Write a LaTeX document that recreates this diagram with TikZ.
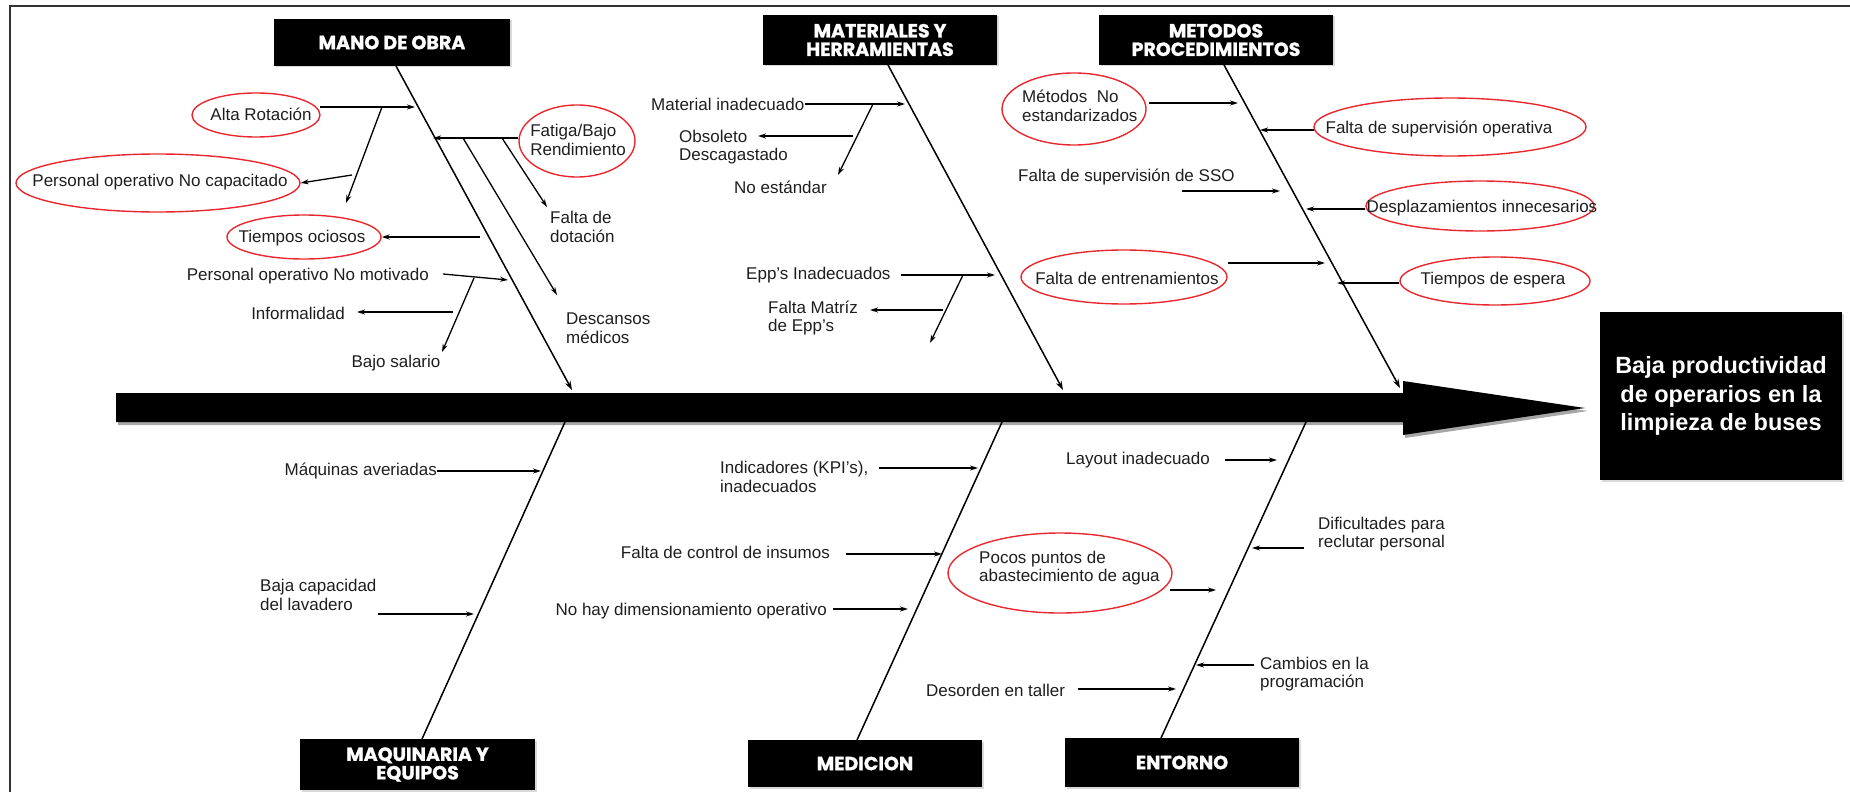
\documentclass[tikz,border=0pt]{standalone}
\usepackage{fontspec}
\setmainfont{Liberation Sans}
\newfontfamily\catfont{Poppins}[BoldFeatures={FakeBold=1.2}]
\usetikzlibrary{shapes.geometric,arrows.meta,shadows}
\definecolor{ellred}{HTML}{E8282E}
\definecolor{txtc}{HTML}{1E1E1E}
\begin{document}
\begin{tikzpicture}[x=1pt,y=-1pt,
  txt/.style={inner sep=0pt, font=\fontsize{17}{18.5}\selectfont, text=txtc, align=left},
  ell/.style={ellipse, draw=ellred, line width=1.4pt, inner sep=0pt},
  cat/.style={fill=black, text=white, inner sep=0pt, align=center,
    font=\catfont\bfseries\fontsize{19}{18.5}\selectfont,
    drop shadow={shadow xshift=1.5pt, shadow yshift=-1.5pt, opacity=0.3}},
  bone/.style={line width=1.5pt, -{Stealth[length=9pt,width=6pt]}},
  sub/.style={line width=1.3pt, -{Stealth[length=8pt,width=5pt]}},
  plain/.style={line width=1.5pt},
]
\useasboundingbox (0,0) rectangle (1850,792);
% frame
\draw[line width=2pt, black!80] (10,792) -- (10,6) -- (1850,6);

% spine
\fill[black!35] (118,396) -- (1405,396) -- (1405,384) -- (1588,411) -- (1405,438) -- (1405,425) -- (118,425) -- cycle;
\fill[black] (116,393) -- (1403,393) -- (1403,381) -- (1585,408) -- (1403,435) -- (1403,422) -- (116,422) -- cycle;

% effect
\node[fill=black, text=white, minimum width=242pt, minimum height=168pt, inner sep=0pt, align=center,
  font=\bfseries\fontsize{23.5}{28.3}\selectfont,
  drop shadow={shadow xshift=2pt, shadow yshift=-2pt, opacity=0.3}] (eff) at (1721,396)
  {Baja productividad\\de operarios en la\\limpieza de buses};

% categories
\node[cat, minimum width=236pt, minimum height=47pt] (mo) at (392,42.5) {MANO DE OBRA};
\node[cat, minimum width=234pt, minimum height=50pt] (mat) at (880,40) {MATERIALES Y\\HERRAMIENTAS};
\node[cat, minimum width=234pt, minimum height=50pt] (met) at (1216,40) {METODOS\\PROCEDIMIENTOS};
\node[cat, minimum width=235pt, minimum height=51pt] (maq) at (417.5,764.5) {MAQUINARIA Y\\EQUIPOS};
\node[cat, minimum width=234pt, minimum height=47pt] (med) at (865,763.5) {MEDICION};
\node[cat, minimum width=234pt, minimum height=49pt] (ent) at (1182,762.5) {ENTORNO};

% bones
\coordinate (b1) at (396,66); \coordinate (s1) at (572,390);
\coordinate (b2) at (888,65); \coordinate (s2) at (1063,390);
\coordinate (b3) at (1224,65); \coordinate (s3) at (1400,388);
\coordinate (b4) at (565,422); \coordinate (c4) at (422,739);
\coordinate (b5) at (1002,422); \coordinate (c5) at (857,740);
\coordinate (b6) at (1306,422); \coordinate (c6) at (1161,738);
\draw[bone] (b1) -- (s1);
\draw[bone] (b2) -- (s2);
\draw[bone] (b3) -- (s3);
\draw[plain] (b4) -- (c4);
\draw[plain] (b5) -- (c5);
\draw[plain] (b6) -- (c6);

% ---------- MANO DE OBRA ----------
\node[ell, minimum width=128pt, minimum height=44pt] (altarot) at (256,115) {};
\node[txt] (taltarot) at (261,114) {Alta Rotación};
\node[ell, minimum width=284pt, minimum height=58pt] (ponc) at (158,183) {};
\node[txt] (tponc) at (160,182) {Personal operativo No capacitado};
\node[ell, minimum width=116pt, minimum height=72pt] (fatiga) at (577,141) {};
\node[txt] (tfatiga) at (578,140) {Fatiga/Bajo\\Rendimiento};
\node[ell, minimum width=154pt, minimum height=44pt] (ocio) at (304,237) {};
\node[txt] (tocio) at (302,238) {Tiempos ociosos};
\node[txt, anchor=west] (dota) at (550,227) {Falta de\\dotación};
\node[txt, anchor=west] (desc) at (566,328) {Descansos\\médicos};
\node[txt, anchor=east] (ponm) at (429,276) {Personal operativo No motivado};
\node[txt, anchor=east] (inf) at (345,313) {Informalidad};
\node[txt] (bsal) at (396,363) {Bajo salario};

\draw[sub] (320,107) -- (415,107);
\draw[sub] (382,107) -- (346,203);
\draw[sub] (352,175) -- (ponc.east);
\draw[sub] (fatiga.west |- 0,138) -- (433,138);
\draw[sub] (463,138) -- (557,295);
\draw[sub] (502,138) -- (547,207);
\draw[sub] (480,237) -- (ocio.east);
\draw[sub] (443,274) -- (508,280);
\draw[sub] (474,278) -- (442,352);
\draw[sub] (453,312) -- (357,312);

% ---------- MATERIALES ----------
\node[txt, anchor=west] (matin) at (651,104) {Material inadecuado};
\node[txt, anchor=west] (obs) at (679,147) {Obsoleto\\Descagastado};
\node[txt, anchor=west] (noest) at (734,187) {No estándar};
\node[txt, anchor=west] (eppin) at (746,275) {Epp's Inadecuados};
\node[txt, anchor=west] (eppm) at (768,318) {Falta Matríz\\de Epp's};

\draw[sub] (matin.east) -- (905,104);
\draw[sub] (873,104) -- (838,175);
\draw[sub] (853,136) -- (758,136);
\draw[sub] (901,275) -- (995,275);
\draw[sub] (963,275) -- (930,343);
\draw[sub] (943,310) -- (870,310);

% ---------- METODOS ----------
\node[ell, minimum width=144pt, minimum height=72pt] (mnoest) at (1074,109) {};
\node[txt, anchor=west] (tmnoest) at (1022,106) {Métodos\ \ No\\estandarizados};
\node[ell, minimum width=272pt, minimum height=58pt] (fsup) at (1450,127) {};
\node[txt] (tfsup) at (1439,129) {Falta de supervisión operativa};
\node[txt, anchor=west] (fsso) at (1018,177) {Falta de supervisión de SSO};
\node[ell, minimum width=228pt, minimum height=50pt] (despl) at (1480,206) {};
\node[txt] (tdespl) at (1482,208) {Desplazamientos innecesarios};
\node[ell, minimum width=206pt, minimum height=54pt] (fent) at (1124,277) {};
\node[txt] (tfent) at (1127,278) {Falta de entrenamientos};
\node[ell, minimum width=190pt, minimum height=48pt] (tesp) at (1495,281) {};
\node[txt] (ttesp) at (1493,280) {Tiempos de espera};

\draw[sub] (1149,103) -- (1238,103);
\draw[sub] (1314,130) -- (1260,130);
\draw[sub] (1182,191) -- (1280,191);
\draw[sub] (despl.west |- 0,209) -- (1306,209);
\draw[sub] (1228,263) -- (1325,263);
\draw[sub] (tesp.west |- 0,283) -- (1337,283);

% ---------- MAQUINARIA ----------
\node[txt, anchor=east] (maqav) at (437,471) {Máquinas averiadas};
\node[txt, anchor=west] (bcap) at (260,595) {Baja capacidad\\del lavadero};
\draw[sub] (maqav.east) -- (541,471);
\draw[sub] (378,614) -- (474,614);

% ---------- MEDICION ----------
\node[txt, anchor=west] (kpi) at (720,477) {Indicadores (KPI's),\\inadecuados};
\node[txt, anchor=east] (fctrl) at (830,552) {Falta de control de insumos};
\node[txt, anchor=east] (nohay) at (827,611) {No hay dimensionamiento operativo};
\draw[sub] (879,468) -- (978,468);
\draw[sub] (846,554) -- (942,554);
\draw[sub] (833,609) -- (908,609);

% ---------- ENTORNO ----------
\node[txt, anchor=west] (lay) at (1066,460) {Layout inadecuado};
\node[txt, anchor=west] (dif) at (1318,534) {Dificultades para\\reclutar personal};
\node[ell, minimum width=224pt, minimum height=80pt] (pocos) at (1060,573) {};
\node[txt, anchor=west] (tpocos) at (979,568) {Pocos puntos de\\abastecimiento de agua};
\node[txt, anchor=west] (camb) at (1260,674) {Cambios en la\\programación};
\node[txt, anchor=west] (deso) at (926,690) {Desorden en taller};
\draw[sub] (1225,460) -- (1277,460);
\draw[sub] (1304,548) -- (1252,548);
\draw[sub] (1170,590) -- (1216,590);
\draw[sub] (1254,665) -- (1196,665);
\draw[sub] (1078,689) -- (1176,689);
\end{tikzpicture}
\end{document}
